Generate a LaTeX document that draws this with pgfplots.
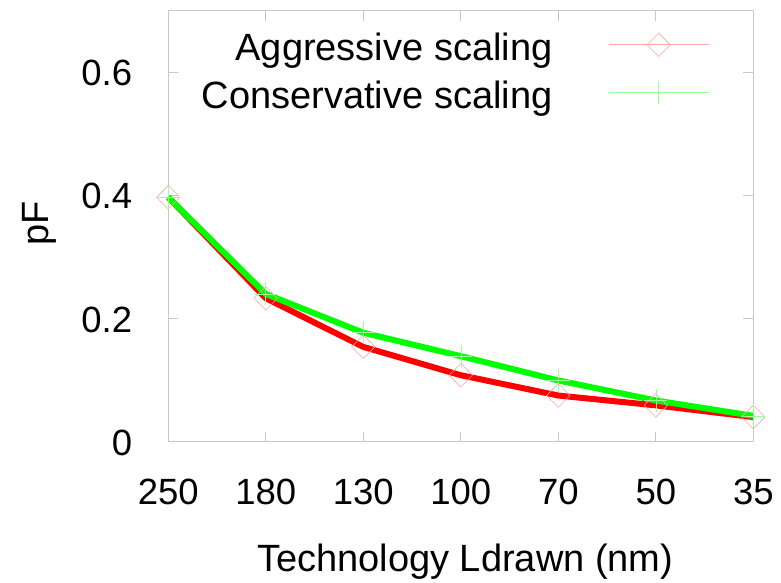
\documentclass[border=0pt]{standalone}
\usepackage{pgfplots}
\pgfplotsset{compat=1.18}
\usepackage{fontspec}
\setmainfont{Liberation Sans}
\definecolor{gg}{RGB}{0,255,0}
\definecolor{rr}{RGB}{255,0,0}
\definecolor{axgray}{RGB}{200,200,200}
\begin{document}
\begin{tikzpicture}[font=\fontsize{38}{44}\selectfont]
\path[use as bounding box] (-168.3pt,-140.3pt) rectangle (612.7pt,441.7pt);
\begin{axis}[
  at={(0pt,0pt)}, anchor=south west,
  scale only axis, width=585pt, height=431pt,
  xmin=0, xmax=6, ymin=0, ymax=0.7,
  clip=false,
  xtick={0,1,2,3,4,5,6},
  xticklabels={250,180,130,100,70,50,35},
  ytick={0,0.2,0.4,0.6},
  yticklabels={0,0.2,0.4,0.6},
  /pgf/number format/assume math mode=true,
  axis line style={draw=axgray, line width=0.8pt},
  tick style={draw=axgray, line width=0.8pt},
  major tick length=10pt,
  tick align=inside,
  every tick label/.append style={font=\fontsize{36.5}{44}\selectfont},
  xticklabel style={anchor=base, inner sep=0pt, yshift=-62.5pt},
  yticklabel style={anchor=east, inner sep=0pt, xshift=-36pt, yshift=-1pt},
  legend plot pos=right,
  legend cell align=right,
  legend style={draw=none, fill=none, inner sep=0pt, outer sep=0pt,
    at={(0.9243,0.9766)}, anchor=north east,
    nodes={inner sep=0pt, text height=39.7pt, text depth=8.3pt},
    column sep=56pt, row sep=0pt},
  legend image code/.code={\draw[mark repeat=2,mark phase=2,#1] plot coordinates {(0pt,0pt) (50pt,0pt) (100pt,0pt)};},
]
\addplot[rr!35, line width=0.6pt, mark=square, mark size=8.3pt, mark options={rotate=45, solid}]
  coordinates {(0,0.397) (1,0.233) (2,0.154) (3,0.108) (4,0.075) (5,0.059) (6,0.040)};
\addlegendentry{Aggressive scaling}
\addplot[gg!40, line width=0.6pt, mark=+, mark size=11.5pt]
  coordinates {(0,0.397) (1,0.240) (2,0.177) (3,0.139) (4,0.0995) (5,0.067) (6,0.042)};
\addlegendentry{Conservative scaling}
\addplot[rr, line width=6pt, forget plot]
  coordinates {(0,0.397) (1,0.233) (2,0.154) (3,0.108) (4,0.075) (5,0.059) (6,0.040)};
\addplot[gg, line width=6pt, forget plot]
  coordinates {(0,0.397) (1,0.240) (2,0.177) (3,0.139) (4,0.0995) (5,0.067) (6,0.042)};
\end{axis}
\node[rotate=90, anchor=base] at (-119.3pt,218pt) {pF};
\node[anchor=base] at (297pt,-130pt) {Technology Ldrawn (nm)};
\end{tikzpicture}
\end{document}
